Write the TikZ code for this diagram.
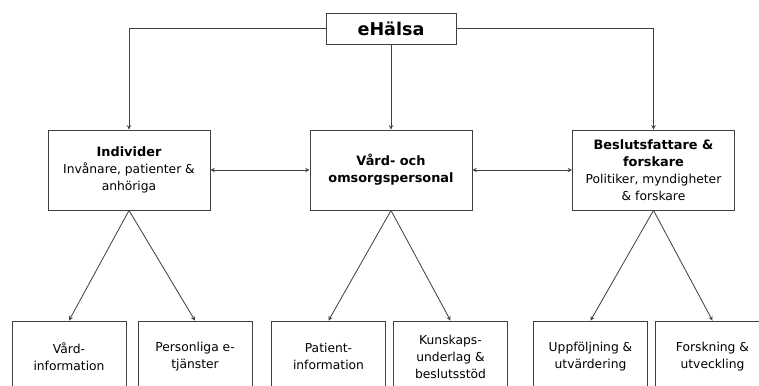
\documentclass[tikz,border=0pt]{standalone}
\usepackage{fontspec}
\setmainfont{DejaVu Sans}
\usetikzlibrary{arrows}

\tikzset{
  box/.style={draw=black!75, line width=0.7pt, align=center, inner sep=2pt,
    font=\fontsize{10.5}{14.5}\selectfont},
  topbox/.style={box, minimum width=4.86cm, minimum height=2.4cm},
  leafbox/.style={box, minimum width=3.42cm, minimum height=2.13cm},
  link/.style={draw=black!75, line width=0.7pt}
}
\newcommand{\headtxt}[1]{{\fontsize{11}{14.5}\selectfont\bfseries #1}}

\begin{document}
\begin{tikzpicture}[x=0.03cm,y=-0.03cm,>=stealth]
\clip (0,0) rectangle (759,385);

\node[box, minimum width=3.9cm, minimum height=0.93cm,
  font=\fontsize{15}{17}\selectfont\bfseries] (ehalsa) at (391,28.5) {eHälsa};

\node[topbox] (individer) at (129,170)
  {\headtxt{Individer}\\Invånare, patienter \&\\anhöriga};
\node[topbox] (vard) at (391,170)
  {\headtxt{Vård- och}\\\headtxt{omsorgspersonal}};
\node[topbox] (beslut) at (653.5,170)
  {\headtxt{Beslutsfattare \&}\\\headtxt{forskare}\\Politiker, myndigheter\\\& forskare};

\node[leafbox] (vardinfo) at (69,356.5) {Vård-\\information};
\node[leafbox] (etjanst) at (195,356.5) {Personliga e-\\tjänster};
\node[leafbox] (patinfo) at (328.5,356.5) {Patient-\\information};
\node[leafbox] (kunskap) at (450.5,356.5) {Kunskaps-\\underlag \&\\beslutsstöd};
\node[leafbox] (uppfolj) at (590.5,356.5) {Uppföljning \&\\utvärdering};
\node[leafbox] (forskn) at (712.5,356.5) {Forskning \&\\utveckling};

\draw[link,->] (ehalsa.west) -| (individer.north);
\draw[link,->] (ehalsa.east) -| (beslut.north);
\draw[link,->] (ehalsa.south) -- (vard.north);

\draw[link,<->] (individer.east) -- (vard.west);
\draw[link,<->] (vard.east) -- (beslut.west);

\draw[link,->] (individer.south) -- (vardinfo.north);
\draw[link,->] (individer.south) -- (etjanst.north);
\draw[link,->] (vard.south) -- (patinfo.north);
\draw[link,->] (vard.south) -- (kunskap.north);
\draw[link,->] (beslut.south) -- (uppfolj.north);
\draw[link,->] (beslut.south) -- (forskn.north);
\end{tikzpicture}
\end{document}
